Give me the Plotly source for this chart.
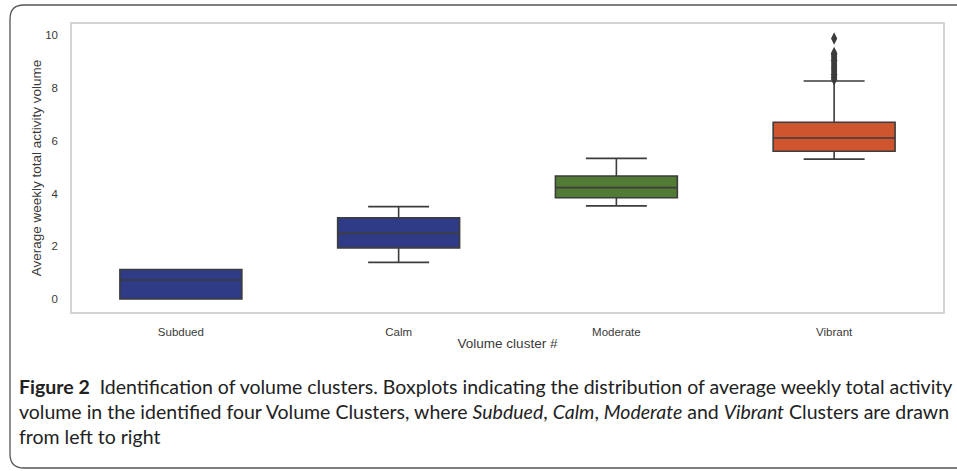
import plotly.graph_objects as go

# Boxplot statistics
clusters = ["Subdued", "Calm", "Moderate", "Vibrant"]
q1 = [0.0, 1.94, 3.84, 5.60]
median = [0.72, 2.49, 4.22, 6.10]
q3 = [1.12, 3.08, 4.66, 6.70]
lower_fence = [0.0, 1.39, 3.53, 5.30]
upper_fence = [1.12, 3.50, 5.33, 8.26]
colors = ["#2f3b87", "#2f3b87", "#527b35", "#cf552f"]

vibrant_outliers = [8.32, 8.38, 8.45, 8.52, 8.6, 8.68, 8.75, 8.82, 8.9,
                    8.98, 9.05, 9.12, 9.2, 9.27, 9.32, 9.87]

LINE = "#3d3d3d"
W, H = 957, 471
L, R, T, B = 72, 14, 24, 159
PW, PH = W - L - R, H - T - B


def px(x):
    return (x - L) / PW


def py(y):
    return (T + PH - y) / PH


fig = go.Figure()
for i, name in enumerate(clusters):
    fig.add_trace(go.Box(
        x=[name], q1=[q1[i]], median=[median[i]], q3=[q3[i]],
        lowerfence=[lower_fence[i]], upperfence=[upper_fence[i]],
        fillcolor=colors[i], line=dict(color=LINE, width=1.6),
        whiskerwidth=0.5, boxpoints=False, name=name,
    ))

fig.add_trace(go.Scatter(
    x=["Vibrant"] * len(vibrant_outliers), y=vibrant_outliers,
    mode="markers",
    marker=dict(symbol="diamond-tall", size=9, color=LINE),
    showlegend=False,
))

# rounded card border around figure + caption
x0, x1, y0, y1, r = 10, 1000, 5, 468, 14
path = (
    f"M {px(x0)},{py(y1 - r)} L {px(x0)},{py(y0 + r)} "
    f"Q {px(x0)},{py(y0)} {px(x0 + r)},{py(y0)} L {px(x1)},{py(y0)} "
    f"M {px(x0)},{py(y1 - r)} Q {px(x0)},{py(y1)} {px(x0 + r)},{py(y1)} L {px(x1)},{py(y1)}"
)
fig.add_shape(type="path", xref="paper", yref="paper", path=path,
              line=dict(color="#555555", width=1.3))

cap_font = dict(family="Lato, Open Sans, sans-serif", size=19.5, color="#222222")
caption = [
    "<b>Figure 2</b>  Identification of volume clusters. Boxplots indicating the distribution of average weekly total activity",
    "volume in the identified four Volume Clusters, where <i>Subdued</i>, <i>Calm</i>, <i>Moderate</i> and <i>Vibrant</i> Clusters are drawn",
    "from left to right",
]
for k, line in enumerate(caption):
    fig.add_annotation(
        text=line, xref="paper", yref="paper", x=px(17), y=py(386 + 25 * k),
        xanchor="left", yanchor="middle", showarrow=False, font=cap_font, align="left",
    )

fig.update_layout(
    width=W, height=H,
    margin=dict(l=L, r=R, t=T, b=B),
    paper_bgcolor="white", plot_bgcolor="white",
    showlegend=False, boxgap=0.2,
    font=dict(family="Liberation Sans, Arial, sans-serif", size=11.5, color="#3a3a3a"),
)
fig.update_xaxes(
    categoryorder="array", categoryarray=clusters,
    showgrid=False, zeroline=False,
    showline=True, mirror=True, linecolor="#d4d4d4", linewidth=1.5,
    ticks="", ticklabelstandoff=8,
    title=dict(text="Volume cluster #", font=dict(size=13.5, color="#3a3a3a"), standoff=2),
)
fig.update_yaxes(
    range=[-0.49, 10.42], tickvals=[0, 2, 4, 6, 8, 10],
    showgrid=False, zeroline=False,
    showline=True, mirror=True, linecolor="#d4d4d4", linewidth=1.5,
    ticks="", ticklabelstandoff=10,
    title=dict(text="Average weekly total activity volume", font=dict(size=13.5, color="#3a3a3a"), standoff=0),
)

# page body has a default 8px margin; drop it so the figure fills the window
fig.write_html("out.html", config={"displayModeBar": False},
               post_script="document.body.style.margin='0';")
